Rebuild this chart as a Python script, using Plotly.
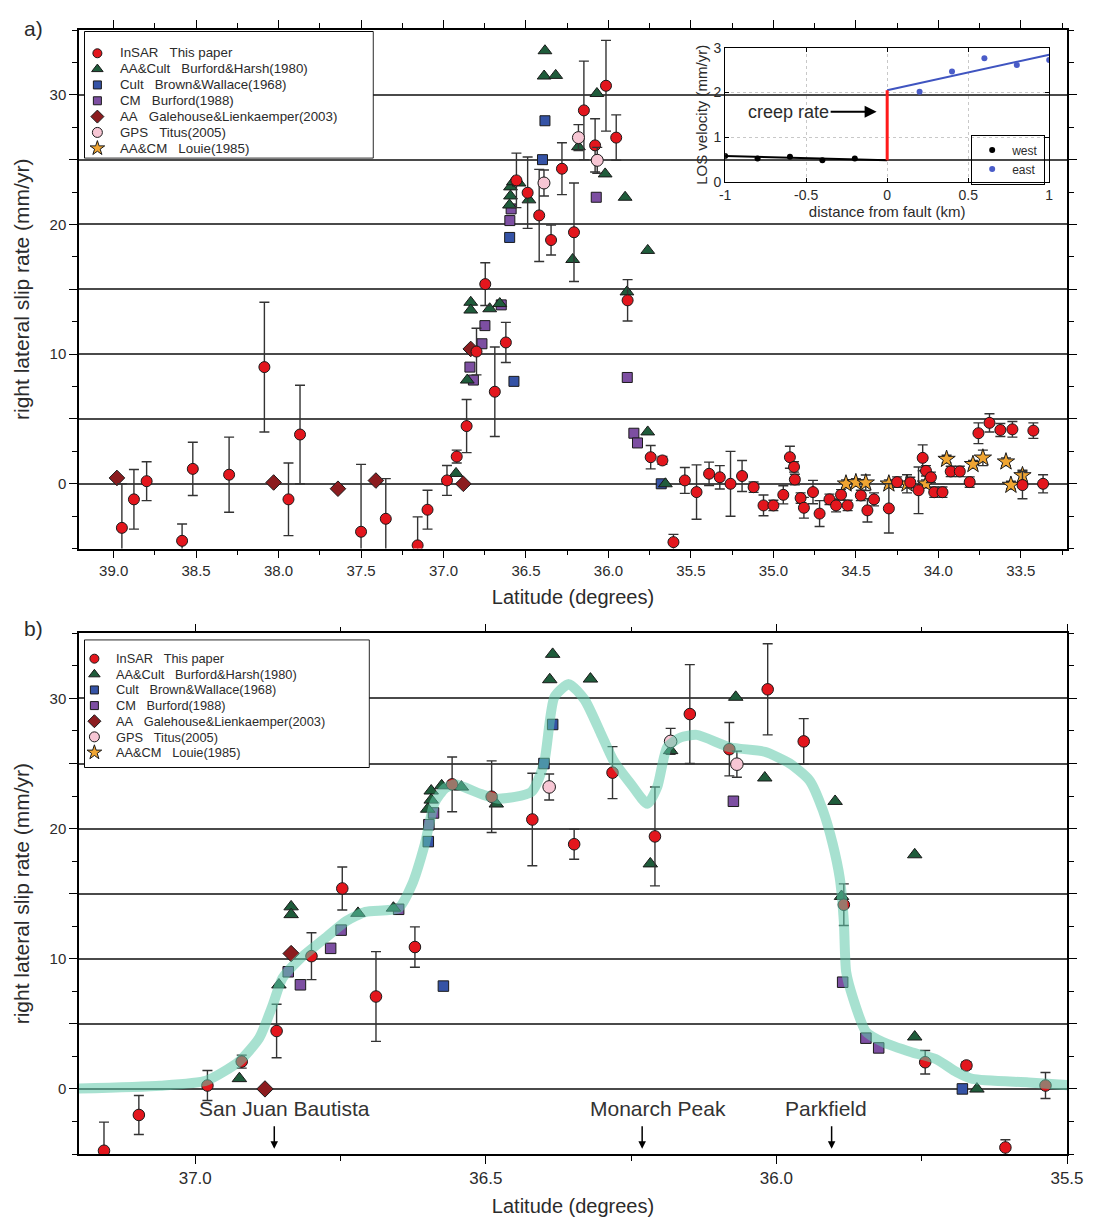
import plotly.graph_objects as go

FONT = "Liberation Sans, Arial, Helvetica, sans-serif"
TXT = "#2b2b2b"

# ---------------- data ----------------
# InSAR (this paper): latitude, slip rate, 1-sigma
insar_lat = [38.95, 38.877, 38.80, 38.585, 38.52, 38.30, 38.086, 37.94, 37.87, 37.50,
             37.35, 37.157, 37.097, 36.979, 36.92, 36.86, 36.80, 36.747, 36.689, 36.622,
             36.558, 36.49, 36.42, 36.348, 36.282, 36.209, 36.149, 36.081, 36.015, 35.953,
             35.884, 35.744, 35.673, 35.606, 35.537, 35.466, 35.39, 35.325, 35.26, 35.19,
             35.12, 35.06, 35.00, 34.94, 34.90, 34.875, 34.87, 34.835, 34.815, 34.76,
             34.72, 34.66, 34.62, 34.59, 34.55, 34.47, 34.43, 34.39, 34.30, 34.25,
             34.17, 34.12, 34.095, 34.075, 34.045, 34.025, 33.975, 33.925, 33.87, 33.81,
             33.757, 33.69, 33.624, 33.551, 33.49, 33.424, 33.365]
insar_val = [-3.4, -1.2, 0.2, -4.4, 1.15, 0.7, 9.0, -1.2, 3.8, -3.7,
             -2.7, -4.75, -2.0, 0.26, 2.1, 4.45, 10.2, 15.4, 7.1, 10.9,
             23.4, 22.45, 20.7, 18.8, 24.3, 19.4, 28.8, 26.1, 30.7, 26.7,
             14.15, 2.05, 1.8, -4.5, 0.26, -0.64, 0.77, 0.5, 0.0, 0.6,
             -0.26, -1.67, -1.67, -0.85, 2.05, 1.3, 0.33, -1.1, -1.85, -0.64,
             -2.3, -1.2, -1.67, -0.85, -1.67, -0.9, -2.05, -1.2, -1.9, 0.13,
             0.1, -0.5, 2.0, 1.0, 0.5, -0.65, -0.65, 0.95, 0.95, 0.13,
             3.9, 4.7, 4.15, 4.2, -0.1, 4.1, 0.0]
insar_err = [3.4, 2.3, 1.5, 1.3, 2.05, 2.9, 5.0, 2.8, 3.8, 5.2,
             3.1, 2.2, 1.5, 1.15, 0.5, 2.05, 1.8, 1.65, 3.45, 1.55,
             2.1, 2.75, 3.55, 1.15, 2.0, 3.8, 3.8, 2.05, 3.5, 1.75,
             1.6, 0.9, 0.3, 0.6, 1.0, 2.1, 0.9, 0.9, 2.5, 1.2,
             0.4, 0.8, 0.4, 0.7, 0.85, 0.4, 0.4, 0.4, 0.8, 0.9,
             1.0, 0.4, 0.5, 0.4, 0.4, 0.4, 0.9, 0.5, 1.9, 0.4,
             0.4, 1.8, 1.0, 0.4, 0.4, 0.4, 0.4, 0.4, 0.4, 0.4,
             0.8, 0.7, 0.5, 0.6, 1.05, 0.6, 0.7]

# AA&Cult Burford & Harsh (1980)
bh_lat = [36.924, 36.856, 36.835, 36.835, 36.72, 36.659, 36.60, 36.594, 36.594, 36.576,
          36.542, 36.482, 36.385, 36.39, 36.32, 36.217, 36.182, 36.07, 36.02, 35.899,
          35.888, 35.762, 35.762, 35.655]
bh_val = [0.8, 8.0, 14.0, 13.4, 13.5, 13.9, 21.5, 22.9, 22.2, 23.3,
          23.2, 21.9, 33.4, 31.45, 31.5, 17.3, 26.0, 30.1, 23.9, 22.1,
          14.8, 18.0, 4.0, 0.0]

# Cult Brown & Wallace (1968)
bw_lat = [36.599, 36.573, 36.40, 36.385, 35.68]
bw_val = [19.0, 7.9, 25.0, 28.0, 0.0]

# CM Burford (1988)
bu_lat = [36.84, 36.819, 36.767, 36.749, 36.65, 36.59, 36.598, 36.074, 35.886, 35.846, 35.824]
bu_val = [9.0, 8.0, 10.8, 12.2, 13.8, 21.2, 20.3, 22.1, 8.2, 3.9, 3.15]

# AA Galehouse & Lienkaemper (2003)
gl_lat = [38.98, 38.03, 37.64, 37.41, 36.88, 36.835]
gl_val = [0.45, 0.1, -0.38, 0.25, 0.0, 10.4]

# GPS Titus (2005)
gps_lat = [36.391, 36.182, 36.068]
gps_val = [23.2, 26.7, 24.95]
gps_err = [1.0, 1.0, 1.0]

# AA&CM Louie (1985)
lo_lat = [34.56, 34.50, 34.44, 34.30, 34.19, 34.075, 33.95, 33.79, 33.73, 33.59, 33.56, 33.49]
lo_val = [0.0, 0.1, 0.08, 0.0, 0.0, 0.0, 1.9, 1.5, 2.0, 1.7, -0.1, 0.64]
lo_err = [0.3, 0.3, 0.6, 0.3, 0.7, 0.3, 0.3, 0.3, 0.6, 0.3, 0.3, 0.4]

# smoothed creep-rate model (panel b)
model_lat = [37.23, 37.06, 36.98, 36.925, 36.89, 36.867, 36.85, 36.82, 36.776, 36.74,
             36.707, 36.65, 36.627, 36.605, 36.588, 36.57, 36.553, 36.508, 36.479, 36.422,
             36.40, 36.382, 36.357, 36.33, 36.302, 36.28, 36.25, 36.222, 36.205, 36.188,
             36.165, 36.137, 36.08, 36.02, 35.977, 35.943, 35.92, 35.903, 35.891, 35.884,
             35.88, 35.868, 35.846, 35.817, 35.766, 35.726, 35.69, 35.663, 35.566, 35.49]
model_val = [0.0, 0.25, 0.65, 2.1, 3.9, 6.4, 8.5, 10.0, 11.6, 12.9,
             13.6, 13.9, 15.7, 18.8, 22.0, 23.1, 23.4, 22.65, 22.3, 22.8,
             25.0, 30.1, 31.1, 29.9, 27.3, 25.2, 23.4, 21.9, 23.2, 26.25,
             27.0, 27.2, 26.25, 25.9, 25.0, 23.7, 21.4, 18.8, 16.2, 12.9,
             9.0, 6.95, 4.4, 3.6, 2.8, 2.3, 1.3, 0.77, 0.5, 0.26]

# inset: LOS velocity profile across the fault
west_x = [-1.0, -0.8, -0.6, -0.4, -0.2]
west_y = [0.58, 0.52, 0.56, 0.48, 0.52]
east_x = [0.2, 0.4, 0.6, 0.8, 1.0]
east_y = [2.02, 2.47, 2.77, 2.62, 2.73]
west_fit_x = [-1.0, 0.0]
west_fit_y = [0.58, 0.48]
east_fit_x = [0.0, 1.0]
east_fit_y = [2.05, 2.85]
creep_x = [0.0, 0.0]
creep_y = [0.48, 2.05]

place_names = ["San Juan Bautista", "Monarch Peak", "Parkfield"]
place_lat = [36.864, 36.231, 35.905]
place_text_lat = [36.847, 36.203, 35.914]

# legend labels
leg_data = ["InSAR", "AA&Cult", "Cult", "CM", "AA", "GPS", "AA&CM"]
leg_source = ["This paper", "Burford&Harsh(1980)", "Brown&Wallace(1968)", "Burford(1988)",
              "Galehouse&Lienkaemper(2003)", "Titus(2005)", "Louie(1985)"]

# ---------------- styles ----------------
SP = "\u00a0\u00a0\u00a0"
series = [
    dict(x=insar_lat, y=insar_val, err=insar_err, symbol="circle", color="#e3161d", size=11, lsize=9),
    dict(x=bh_lat, y=bh_val, err=None, symbol="triangle-up", color="#1f5c3b", size=12, lsize=10),
    dict(x=bw_lat, y=bw_val, err=None, symbol="square", color="#3553a6", size=10, lsize=8),
    dict(x=bu_lat, y=bu_val, err=None, symbol="square", color="#7d4fa2", size=10, lsize=8),
    dict(x=gl_lat, y=gl_val, err=None, symbol="diamond", color="#8c1c1f", size=12, lsize=10),
    dict(x=gps_lat, y=gps_val, err=gps_err, symbol="circle", color="#f7c6d4", size=12, lsize=10),
    dict(x=lo_lat, y=lo_val, err=lo_err, symbol="star", color="#f0a532", size=13, lsize=11),
]
for s, d, src in zip(series, leg_data, leg_source):
    s["name"] = d + SP + src
draw_order = [3, 2, 1, 4, 6, 0, 5]

fig = go.Figure()


def add_panel(xa, ya, scale):
    for i in draw_order:
        s = series[i]
        eb = None
        if s["err"] is not None:
            eb = dict(type="data", array=s["err"], visible=True, color="#333333",
                      thickness=1.4, width=5)
        fig.add_trace(go.Scatter(
            x=s["x"], y=s["y"], mode="markers", name=s["name"],
            marker=dict(symbol=s["symbol"], color=s["color"], size=s["size"] * scale,
                        line=dict(color="#1a1a1a", width=1)),
            error_y=eb, xaxis=xa, yaxis=ya, showlegend=False, hoverinfo="skip"))


add_panel("x", "y", 1.0)
add_panel("x2", "y2", 1.05)

fig.add_trace(go.Scatter(
    x=model_lat, y=model_val, mode="lines", xaxis="x2", yaxis="y2",
    line=dict(color="rgba(95,200,170,0.55)", width=10, shape="spline", smoothing=0.6),
    showlegend=False, hoverinfo="skip"))

# inset
fig.add_trace(go.Scatter(x=west_fit_x, y=west_fit_y, mode="lines", xaxis="x3", yaxis="y3",
                         line=dict(color="black", width=2), showlegend=False, hoverinfo="skip"))
fig.add_trace(go.Scatter(x=east_fit_x, y=east_fit_y, mode="lines", xaxis="x3", yaxis="y3",
                         line=dict(color="#3f54c0", width=2), showlegend=False, hoverinfo="skip"))
fig.add_trace(go.Scatter(x=creep_x, y=creep_y, mode="lines", xaxis="x3", yaxis="y3",
                         line=dict(color="#ff1a1a", width=3), showlegend=False, hoverinfo="skip"))
fig.add_trace(go.Scatter(x=west_x, y=west_y, mode="markers", name="west", xaxis="x3", yaxis="y3",
                         marker=dict(color="black", size=6), hoverinfo="skip"))
fig.add_trace(go.Scatter(x=east_x, y=east_y, mode="markers", name="east", xaxis="x3", yaxis="y3",
                         marker=dict(color="#4a5cc8", size=6), hoverinfo="skip"))

# ---------------- hand-built legends for panels a and b ----------------
PW, PH, ML, MT = 992.0, 1127.0, 79.0, 30.0


def px(xp):
    return (xp - ML) / PW


def py(yp):
    return 1 - (yp - MT) / PH


# (axis suffix, box left, top, width, height, marker x (in box), text x (page px),
#  first row y (in box), row step, font size)
legend_boxes = [("4", 84, 31, 291, 128, 13, 118, 22, 16.0, 13.3),
                ("5", 84, 641, 287, 129, 10, 114, 19, 15.8, 12.8)]

legend_axes = {}
for sfx, bl, bt, bw_, bh_, mx, tx, fy, st, fs in legend_boxes:
    xa, ya = "x" + sfx, "y" + sfx
    fig.add_trace(go.Scatter(x=[0, bw_, bw_, 0, 0], y=[0, 0, bh_, bh_, 0], mode="lines",
                             fill="toself", fillcolor="white", line=dict(color="black", width=1),
                             xaxis=xa, yaxis=ya, showlegend=False, hoverinfo="skip"))
    for k, s in enumerate(series):
        fig.add_trace(go.Scatter(x=[mx], y=[fy + k * st], mode="markers", xaxis=xa, yaxis=ya,
                                 marker=dict(symbol=s["symbol"], color=s["color"], size=s["lsize"],
                                             line=dict(color="#1a1a1a", width=1)),
                                 showlegend=False, hoverinfo="skip"))
        fig.add_annotation(xref="paper", yref="paper", x=px(tx), y=py(bt + fy + k * st),
                           xanchor="left", yanchor="middle", text=s["name"], showarrow=False,
                           font=dict(size=fs, family=FONT, color=TXT))
    ax_common = dict(showline=False, showgrid=False, zeroline=False, showticklabels=False,
                     ticks="", fixedrange=True)
    legend_axes["xaxis" + sfx] = dict(domain=[px(bl), px(bl + bw_)], anchor=ya,
                                      range=[-0.5, bw_ + 0.5], **ax_common)
    legend_axes["yaxis" + sfx] = dict(domain=[py(bt + bh_), py(bt)], anchor=xa,
                                      range=[bh_ + 0.5, -0.5], **ax_common)


# ---------------- axes ----------------
def yaxis_main(domain, anchor):
    return dict(
        domain=domain, anchor=anchor, range=[-5, 35],
        tickmode="array", tickvals=[0, 5, 10, 15, 20, 25, 30],
        ticktext=["0", "", "10", "", "20", "", "30"],
        ticks="outside", ticklen=8, tickwidth=1.2, tickcolor="black",
        showline=True, linecolor="black", linewidth=1.5, mirror="allticks",
        showgrid=True, gridcolor="#4a4a4a", gridwidth=2, zeroline=False,
        minor=dict(tickmode="linear", tick0=0, dtick=2.5, ticklen=5, tickcolor="black",
                   ticks="outside", showgrid=False),
        tickfont=dict(size=15, color=TXT),
        title=dict(text="right lateral slip rate (mm/yr)", font=dict(size=21, color=TXT), standoff=14),
    )


def xaxis_main(rng, anchor, fsize):
    return dict(
        domain=[0, 1], anchor=anchor, range=rng, dtick=0.5, tick0=0, tickformat=".1f",
        ticks="outside", ticklen=8, tickwidth=1.2, tickcolor="black",
        showline=True, linecolor="black", linewidth=1.5, mirror="allticks",
        showgrid=False, zeroline=False,
        minor=dict(tick0=0, dtick=0.25, ticklen=5, tickcolor="black", ticks="outside", showgrid=False),
        tickfont=dict(size=fsize, color=TXT),
        title=dict(text="Latitude (degrees)", font=dict(size=20, color=TXT), standoff=12),
    )


fig.update_layout(
    width=1096, height=1226,
    margin=dict(l=79, r=25, t=30, b=69),
    paper_bgcolor="white", plot_bgcolor="rgba(0,0,0,0)",
    font=dict(family=FONT, color=TXT, size=15),
    showlegend=True,
    xaxis=xaxis_main([39.21, 33.22], "y", 15),
    yaxis=yaxis_main([0.5386, 1.0], "x"),
    xaxis2=xaxis_main([37.2, 35.5], "y2", 17),
    yaxis2=yaxis_main([0.0, 0.4632], "x2"),
    xaxis3=dict(domain=[0.654, 0.982], anchor="y3", range=[-1, 1],
                tickmode="array", tickvals=[-1, -0.5, 0, 0.5, 1],
                ticktext=["-1", "-0.5", "0", "0.5", "1"],
                ticks="inside", ticklen=4, tickcolor="black",
                showline=True, linecolor="black", linewidth=1, mirror="ticks",
                showgrid=True, gridcolor="#c8c8c8", griddash="dot", gridwidth=1, zeroline=False,
                tickfont=dict(size=14, color=TXT),
                title=dict(text="distance from fault (km)", font=dict(size=15, color=TXT), standoff=0)),
    yaxis3=dict(domain=[0.865, 0.984], anchor="x3", range=[0, 3], dtick=1,
                ticks="inside", ticklen=4, tickcolor="black",
                showline=True, linecolor="black", linewidth=1, mirror="ticks",
                showgrid=True, gridcolor="#c8c8c8", griddash="dot", gridwidth=1, zeroline=False,
                tickfont=dict(size=14, color=TXT),
                title=dict(text="LOS velocity (mm/yr)", font=dict(size=15, color=TXT), standoff=2)),
    legend=dict(x=0.903, y=0.907, xanchor="left", yanchor="top", bgcolor="rgba(0,0,0,0)",
                bordercolor="black", borderwidth=1, font=dict(size=12, color=TXT, family=FONT),
                itemwidth=30, tracegroupgap=0),
    **legend_axes,
)

# inset annotation
fig.add_annotation(x=-0.065, y=1.57, xref="x3", yref="y3", text="creep rate",
                   showarrow=True, ax=-88, ay=0, arrowhead=2, arrowsize=1.2, arrowwidth=2,
                   arrowcolor="black", font=dict(size=18, color=TXT))

# place names and arrows (panel b)
for nm, la, lt in zip(place_names, place_lat, place_text_lat):
    fig.add_annotation(x=la, y=-4.6, xref="x2", yref="y2", text="", showarrow=True,
                       ax=0, ay=-24, arrowhead=2, arrowsize=1, arrowwidth=1.5, arrowcolor="black")
    fig.add_annotation(x=lt, y=-1.5, xref="x2", yref="y2", text=nm, showarrow=False,
                       font=dict(size=21, color="#333333"))

# panel labels
fig.add_annotation(x=-0.0575, y=1.0133, xref="paper", yref="paper", text="a)", showarrow=False,
                   font=dict(size=21, color=TXT))
fig.add_annotation(x=-0.0575, y=0.4676, xref="paper", yref="paper", text="b)", showarrow=False,
                   font=dict(size=21, color=TXT))

fig.write_html("out.html", config={"displayModeBar": False},
               post_script="document.body.style.margin='0';")
